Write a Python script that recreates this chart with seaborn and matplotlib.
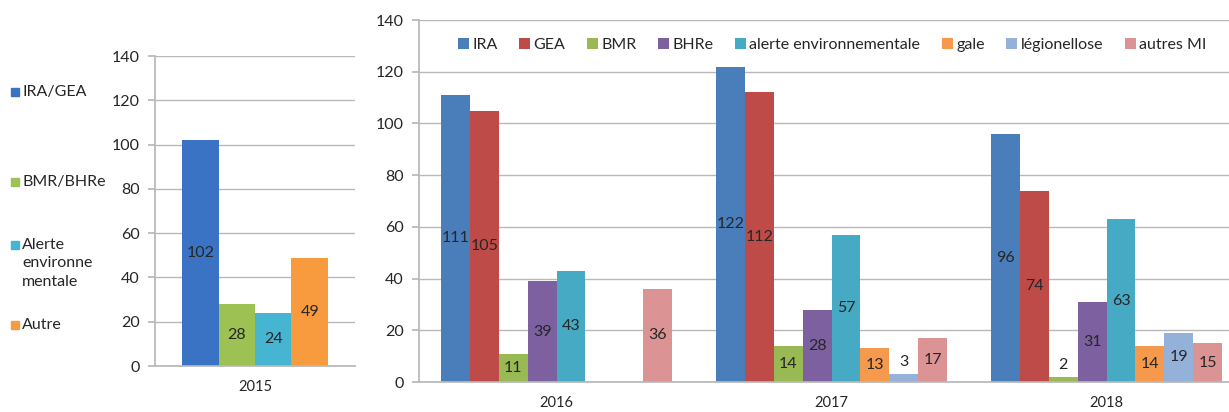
import numpy as np
import pandas as pd
import matplotlib.pyplot as plt
import seaborn as sns
from matplotlib.patches import Rectangle

# 2015 panel
left_years = ["2015"]
left_series = ["IRA/GEA", "BMR/BHRe", "Alerte\nenvironne\nmentale", "Autre"]
left_values = [102, 28, 24, 49]
left_colors = ["#3a73c4", "#9dc153", "#45b5d1", "#f89a3e"]

# 2016-2018 panel
years = ["2016", "2017", "2018"]
series = ["IRA", "GEA", "BMR", "BHRe", "alerte environnementale",
          "gale", "légionellose", "autres MI"]
ira = [111, 122, 96]
gea = [105, 112, 74]
bmr = [11, 14, 2]
bhre = [39, 28, 31]
alerte = [43, 57, 63]
gale = [np.nan, 13, 14]
legionellose = [np.nan, 3, 19]
autres_mi = [36, 17, 15]
colors = ["#4a7ebb", "#be4b48", "#98b954", "#7d60a0",
          "#46aac5", "#f59a4c", "#93b1d9", "#db9493"]

sns.set_theme(style="white")
plt.rcParams["font.family"] = ["Lato", "DejaVu Sans"]
grid_col = "#b8b8b8"

fig = plt.figure(figsize=(12.29, 4.12), dpi=100)
ax1 = fig.add_axes([155 / 1229, 1 - 366 / 412, 200 / 1229, 310 / 412])
ax2 = fig.add_axes([419 / 1229, 1 - 382 / 412, 810 / 1229, 362 / 412])

df_left = pd.DataFrame({"year": left_years * len(left_series),
                        "series": left_series,
                        "value": left_values})
sns.barplot(data=df_left, x="year", y="value", hue="series",
            hue_order=left_series, palette=left_colors, width=0.73,
            saturation=1, edgecolor="none", ax=ax1, legend=False)

values = [ira, gea, bmr, bhre, alerte, gale, legionellose, autres_mi]
rows = []
for s, vals in zip(series, values):
    for y, v in zip(years, vals):
        rows.append({"year": y, "series": s, "value": v})
df_right = pd.DataFrame(rows)
sns.barplot(data=df_right, x="year", y="value", hue="series",
            hue_order=series, palette=colors, width=0.84,
            saturation=1, edgecolor="none", ax=ax2)


def label_bars(ax, fs):
    for cont in ax.containers:
        for bar in cont:
            h = bar.get_height()
            if np.isnan(h) or h == 0:
                continue
            x = bar.get_x() + bar.get_width() / 2
            if h < 5:
                ax.text(x, h + 2, f"{int(h)}", ha="center", va="bottom", fontsize=fs)
            else:
                ax.text(x, h / 2, f"{int(h)}", ha="center", va="center", fontsize=fs)


for ax, nx in [(ax1, 1), (ax2, 3)]:
    ax.set_ylim(0, 140)
    ax.set_yticks(range(0, 141, 20))
    ax.yaxis.grid(True, color=grid_col, linewidth=1)
    ax.set_axisbelow(True)
    ax.set_xlabel("")
    ax.set_ylabel("")
    for side in ["top", "right"]:
        ax.spines[side].set_visible(False)
    ax.spines["left"].set_color(grid_col)
    ax.spines["bottom"].set_color(grid_col)
    ax.set_xticks([i - 0.5 for i in range(nx + 1)], minor=True)
    ax.tick_params(axis="x", which="major", length=0, labelsize=10.5, pad=10)
    ax.tick_params(axis="x", which="minor", length=5, color=grid_col, direction="out")
    ax.tick_params(axis="y", length=5, color=grid_col, direction="out",
                   labelsize=11.5, left=True, pad=6)

ax1.set_xlim(-0.5, 0.5)
ax2.set_xlim(-0.5, 2.445)
label_bars(ax1, 11.5)
label_bars(ax2, 11.5)

ax2.legend(ncol=8, loc="upper left", bbox_to_anchor=(0.03, 0.99),
           frameon=False, handlelength=0.7, handleheight=0.7,
           handletextpad=0.2, columnspacing=1.35, fontsize=11.5)

# left-hand legend
leg_y = [92, 182, 245, 325]
for lab, col, yy in zip(left_series, left_colors, leg_y):
    fig.patches.append(Rectangle((11 / 1229, 1 - (yy + 4) / 412), 8 / 1229, 8 / 412,
                                 transform=fig.transFigure, color=col))
    fig.text(22 / 1229, 1 - (yy - 7) / 412, lab, ha="left", va="top",
             fontsize=11.5, linespacing=1.4)

fig.savefig("out.png", dpi=100)
